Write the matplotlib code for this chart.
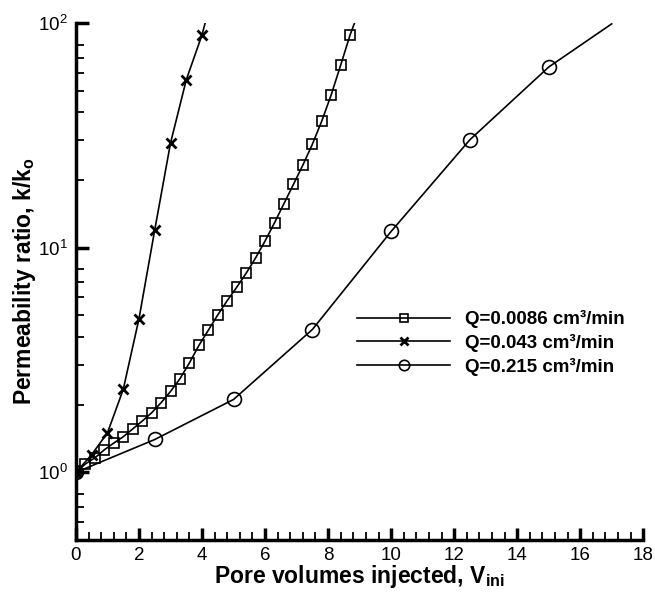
import numpy as np
import matplotlib
matplotlib.use("Agg")
import matplotlib.pyplot as plt
from matplotlib.ticker import LogLocator, MultipleLocator, NullFormatter

plt.rcParams['font.family'] = ['Liberation Sans', 'DejaVu Sans']
plt.rcParams['mathtext.fontset'] = 'custom'
plt.rcParams['mathtext.rm'] = 'Liberation Sans'
plt.rcParams['mathtext.bf'] = 'Liberation Sans:bold'

# Q = 0.0086 cm3/min (squares), last point is the line end only
pv_slow = [0.0, 0.3, 0.6, 0.9, 1.2, 1.5, 1.8, 2.1, 2.4, 2.7, 3.0, 3.3, 3.6, 3.9, 4.2,
           4.5, 4.8, 5.1, 5.4, 5.7, 6.0, 6.3, 6.6, 6.9, 7.2, 7.5, 7.8, 8.1, 8.4, 8.7, 8.84]
k_slow = [1.0, 1.09, 1.16, 1.26, 1.35, 1.44, 1.56, 1.69, 1.84, 2.04, 2.29, 2.61, 3.07, 3.67, 4.29,
          5.02, 5.81, 6.66, 7.69, 9.0, 10.7, 12.9, 15.7, 19.1, 23.3, 28.8, 36.6, 47.9, 64.9, 88.5, 100]

# Q = 0.043 cm3/min (crosses)
pv_mid = [0.0, 0.5, 1.0, 1.5, 2.0, 2.5, 3.0, 3.5, 4.0, 4.1]
k_mid = [1.0, 1.2, 1.5, 2.34, 4.83, 12.0, 29.2, 55.8, 88.5, 100]

# Q = 0.215 cm3/min (circles)
pv_fast = [0.0, 2.5, 5.0, 7.5, 10.0, 12.5, 15.0, 17.0]
k_fast = [1.0, 1.40, 2.11, 4.32, 11.8, 30.2, 63.6, 99]

labels = ['Q=0.0086 cm³/min', 'Q=0.043 cm³/min', 'Q=0.215 cm³/min']

fig = plt.figure(figsize=(6.55, 5.93), dpi=100)
ax = fig.add_axes([0.116, 0.0894, 0.866, 0.872])

ax.plot(pv_slow, k_slow, color='black', lw=1.2, marker='s', ms=7, mfc='none', mec='black',
        mew=1.2, markevery=list(range(len(pv_slow) - 1)), label=labels[0])
ax.plot(pv_mid, k_mid, color='black', lw=1.2, marker='x', ms=7, mec='black',
        mew=2.0, markevery=list(range(len(pv_mid) - 1)), label=labels[1])
ax.plot(pv_fast, k_fast, color='black', lw=1.2, marker='o', ms=10, mfc='none', mec='black',
        mew=1.2, markevery=list(range(len(pv_fast) - 1)), label=labels[2])

ax.set_yscale('log')
ax.set_xlim(0, 18)
ax.set_ylim(0.5, 100)

ax.xaxis.set_major_locator(MultipleLocator(2))
ax.xaxis.set_minor_locator(MultipleLocator(0.4))
ax.yaxis.set_major_locator(LogLocator(base=10, numticks=10))
ax.yaxis.set_minor_locator(LogLocator(base=10, subs=[2, 3, 4, 5, 6, 7, 8], numticks=10))
ax.yaxis.set_minor_formatter(NullFormatter())

for s in ['top', 'right']:
    ax.spines[s].set_visible(False)
for s in ['left', 'bottom']:
    ax.spines[s].set_linewidth(2.5)

ax.tick_params(which='major', direction='in', length=9, width=2.5, labelsize=13.5)
ax.tick_params(which='minor', direction='in', length=6, width=1.3)
ax.tick_params(axis='x', which='major', pad=5)
ax.tick_params(axis='y', which='major', pad=6)

ax.set_xlabel(r'Pore volumes injected, V$_{\mathregular{ini}}$', fontsize=16.5, fontweight='bold', labelpad=-1)
ax.set_ylabel(r'Permeability ratio, k/k$_{\mathregular{o}}$', fontsize=16.5, fontweight='bold', labelpad=0)

leg = ax.legend(loc='center left', bbox_to_anchor=(0.496, 0.381), frameon=False,
                handlelength=4.96, handletextpad=0.8, labelspacing=0.3,
                borderpad=0, borderaxespad=0, markerscale=0.75,
                prop={'weight': 'bold', 'size': 13.5})

fig.savefig('out.png', dpi=100)
